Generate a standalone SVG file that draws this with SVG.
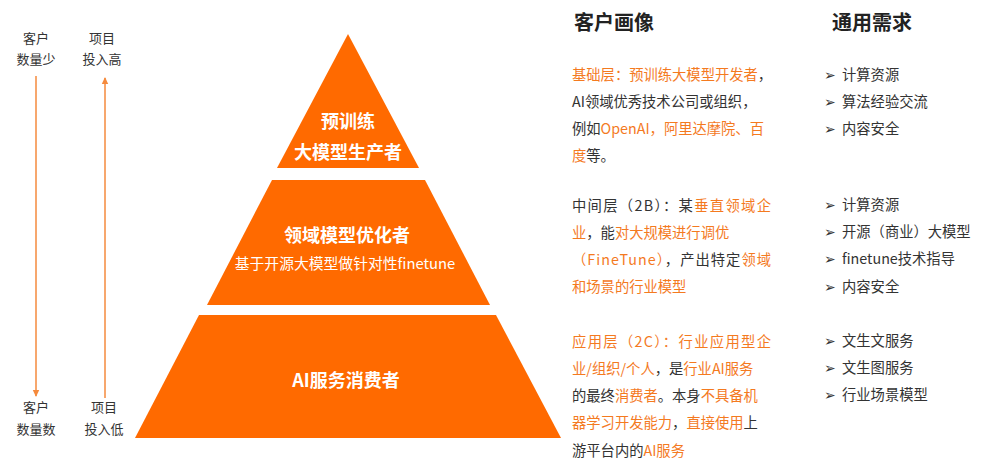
<svg xmlns="http://www.w3.org/2000/svg" width="985" height="468" viewBox="0 0 985 468">
<style>
text{font-family:"Noto Sans CJK SC","Noto Sans",sans-serif;}
.lab{font-size:13px;fill:#333;text-anchor:middle;}
.py{font-size:18px;font-weight:bold;fill:#fff;text-anchor:middle;}
.pys{font-size:14.8px;fill:#fff;text-anchor:middle;}
.hd{font-size:20px;font-weight:bold;fill:#222;}
.tx{font-size:14.3px;fill:#333;}
.o{fill:#F47A1F;}
.li{font-size:14.3px;fill:#333;}
.bl{font-family:"DejaVu Sans",sans-serif;font-size:14px;}
.shape{fill:#FF6A00;}
.arr{stroke:#F58A3C;stroke-width:1.5;fill:none;}
</style>
<defs>
<marker id="ah" markerWidth="8" markerHeight="8" refX="6" refY="4" orient="auto" markerUnits="userSpaceOnUse">
<path d="M0,0.8 L7,4 L0,7.2 Z" fill="#F58A3C"/>
</marker>
</defs>
<g id="connectors">
<line class="arr" x1="36" y1="76" x2="36" y2="396" marker-end="url(#ah)"/>
<line class="arr" x1="105" y1="398" x2="105" y2="78" marker-end="url(#ah)"/>
</g>
<g id="label-top-left">
<text class="lab" x="36" y="43">客户</text>
<text class="lab" x="36" y="64">数量少</text>
</g>
<g id="label-top-right">
<text class="lab" x="102" y="43">项目</text>
<text class="lab" x="102" y="64">投入高</text>
</g>
<g id="label-bottom-left">
<text class="lab" x="36" y="412">客户</text>
<text class="lab" x="36" y="434">数量数</text>
</g>
<g id="label-bottom-right">
<text class="lab" x="104" y="412">项目</text>
<text class="lab" x="104" y="434">投入低</text>
</g>
<g id="tier-top">
<polygon class="shape" points="348,34 419,168 277,168"/>
<text class="py" x="348" y="128">预训练</text>
<text class="py" x="348" y="159">大模型生产者</text>
</g>
<g id="tier-middle">
<polygon class="shape" points="272,180 425,180 490,305 207,305"/>
<text class="py" x="347" y="242">领域模型优化者</text>
<text class="pys" x="345" y="269">基于开源大模型做针对性finetune</text>
</g>
<g id="tier-bottom">
<polygon class="shape" points="199,315 496,315 561,438 135,438"/>
<text class="py" x="346" y="387">AI服务消费者</text>
</g>
<g id="header-persona">
<text class="hd" x="574" y="30">客户画像</text>
</g>
<g id="header-needs">
<text class="hd" x="832" y="30">通用需求</text>
</g>
<g id="persona-base">
<text class="tx" x="572" y="80"><tspan class="o">基础层：预训练大模型开发者</tspan>，</text>
<text class="tx" x="572" y="107">AI领域优秀技术公司或组织，</text>
<text class="tx" x="572" y="134">例如<tspan class="o">OpenAI，阿里达摩院、百</tspan></text>
<text class="tx" x="572" y="161"><tspan class="o">度</tspan>等。</text>
</g>
<g id="persona-mid">
<text class="tx" x="572" y="211" textLength="199" lengthAdjust="spacing">中间层（2B）：某<tspan class="o">垂直领域企</tspan></text>
<text class="tx" x="572" y="238"><tspan class="o">业</tspan>，能<tspan class="o">对大规模进行调优</tspan></text>
<text class="tx" x="572" y="265" textLength="199" lengthAdjust="spacing"><tspan class="o">（FineTune）</tspan>，产出特定<tspan class="o">领域</tspan></text>
<text class="tx" x="572" y="292"><tspan class="o">和场景的行业模型</tspan></text>
</g>
<g id="persona-app">
<text class="tx" x="572" y="347" textLength="199" lengthAdjust="spacing"><tspan class="o">应用层（2C）：行业应用型企</tspan></text>
<text class="tx" x="572" y="374"><tspan class="o">业/组织/个人</tspan>，是<tspan class="o">行业AI服务</tspan></text>
<text class="tx" x="572" y="401">的最终<tspan class="o">消费者</tspan>。本身<tspan class="o">不具备机</tspan></text>
<text class="tx" x="572" y="428"><tspan class="o">器学习开发能力</tspan>，<tspan class="o">直接使用</tspan>上</text>
<text class="tx" x="572" y="456">游平台内的<tspan class="o">AI服务</tspan></text>
</g>
<g id="needs-base">
<text class="li" x="824" y="80"><tspan class="bl">➢</tspan><tspan x="842">计算资源</tspan></text>
<text class="li" x="824" y="107"><tspan class="bl">➢</tspan><tspan x="842">算法经验交流</tspan></text>
<text class="li" x="824" y="134"><tspan class="bl">➢</tspan><tspan x="842">内容安全</tspan></text>
</g>
<g id="needs-mid">
<text class="li" x="824" y="210"><tspan class="bl">➢</tspan><tspan x="842">计算资源</tspan></text>
<text class="li" x="824" y="237"><tspan class="bl">➢</tspan><tspan x="842">开源（商业）大模型</tspan></text>
<text class="li" x="824" y="264"><tspan class="bl">➢</tspan><tspan x="842">finetune技术指导</tspan></text>
<text class="li" x="824" y="292"><tspan class="bl">➢</tspan><tspan x="842">内容安全</tspan></text>
</g>
<g id="needs-app">
<text class="li" x="824" y="346"><tspan class="bl">➢</tspan><tspan x="842">文生文服务</tspan></text>
<text class="li" x="824" y="373"><tspan class="bl">➢</tspan><tspan x="842">文生图服务</tspan></text>
<text class="li" x="824" y="400"><tspan class="bl">➢</tspan><tspan x="842">行业场景模型</tspan></text>
</g>
</svg>
